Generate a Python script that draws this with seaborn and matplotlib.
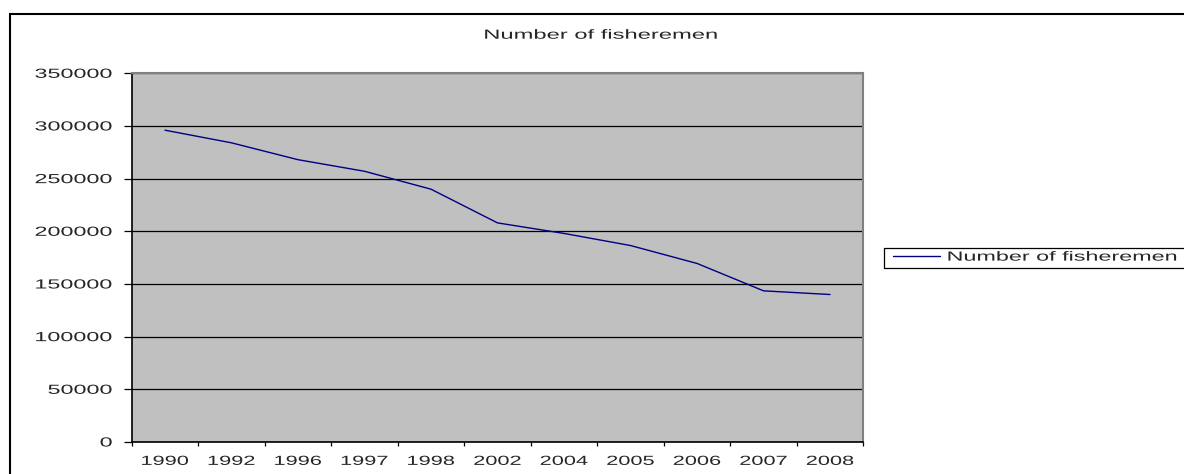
import matplotlib
matplotlib.use("Agg")
import matplotlib.pyplot as plt
import seaborn as sns
from matplotlib.patches import Rectangle
from matplotlib.patheffects import AbstractPathEffect
from matplotlib.transforms import Affine2D

# --- data ---
years = ["1990", "1992", "1996", "1997", "1998", "2002", "2004", "2005", "2006", "2007", "2008"]
fishermen = [296000, 284000, 268000, 257000, 240000, 208000, 198000, 186500, 169500, 143500, 140000]
series_name = "Number of fisheremen"
y_ticks = [0, 50000, 100000, 150000, 200000, 250000, 300000, 350000]


# the source image is a horizontally stretched screenshot, so widen the glyphs too
class HStretch(AbstractPathEffect):
    def __init__(self, sx, anchor="center"):
        super().__init__()
        self.sx = sx
        self.anchor = anchor

    def draw_path(self, renderer, gc, tpath, affine, rgbFace=None):
        ext = tpath.get_extents()
        x0 = {"left": 0.0, "center": (ext.x0 + ext.x1) / 2, "right": ext.x1}[self.anchor]
        st = Affine2D().translate(-x0, 0).scale(self.sx, 1).translate(x0, 0)
        renderer.draw_path(gc, tpath, st + affine, rgbFace)


sns.set_style("white")
plt.rcParams["font.family"] = ["Liberation Sans", "DejaVu Sans"]
plt.rcParams["font.size"] = 9.5

W, H = 1184, 474
fig = plt.figure(figsize=(W / 100, H / 100), dpi=100)
ax = fig.add_axes([131.7 / W, 1 - 442 / H, (863.3 - 131.7) / W, (442 - 73.3) / H])
ax.set_facecolor("#C0C0C0")

sns.lineplot(x=years, y=fishermen, ax=ax, color="#000080", lw=1.0, label=series_name)

# y axis
ax.set_ylim(0, 350000)
ax.set_yticks(y_ticks, labels=[str(v) for v in y_ticks])
ax.yaxis.grid(True, color="black", lw=0.9)
ax.xaxis.grid(False)
ax.set_axisbelow(True)
ax.tick_params(axis="y", direction="out", length=5.5, width=0.9, color="black", pad=8.5, left=True)

# x axis: ticks between categories, labels at category centres
n = len(years)
ax.set_xlim(-0.5, n - 0.5)
ax.set_xticks([i - 0.5 for i in range(n + 1)], labels=[""] * (n + 1))
ax.set_xticks(list(range(n)), labels=years, minor=True)
ax.tick_params(axis="x", which="major", direction="out", length=3, width=0.9, color="black", bottom=True)
ax.tick_params(axis="x", which="minor", length=0, pad=10)
ax.set_xlabel("")
ax.set_ylabel("")

for s in ["left", "bottom"]:
    ax.spines[s].set_color("black")
    ax.spines[s].set_linewidth(1.2)
for s in ["top", "right"]:
    ax.spines[s].set_color("#808080")
    ax.spines[s].set_linewidth(1.5)

# title
fig.text(601 / W, 1 - 38.7 / H, series_name, ha="center", va="baseline",
         path_effects=[HStretch(1.8, "center")])

# legend
ax.get_legend().remove()
leg = fig.legend(loc="center left", bbox_to_anchor=(893 / W, 1 - 257.5 / H),
                 frameon=False, borderpad=0, borderaxespad=0,
                 handlelength=3.56, handletextpad=0.5)
for t in leg.get_texts():
    t.set_path_effects([HStretch(1.77, "left")])
fig.patches.append(Rectangle((884 / W, 1 - 268 / H), 0.5, 20 / H, transform=fig.transFigure,
                             fill=False, edgecolor="black", lw=0.9))

# outer chart frame
fig.patches.append(Rectangle((10 / W, -0.2), 1.5, 1.2 - 14 / H, transform=fig.transFigure,
                             fill=False, edgecolor="black", lw=1.5))

for lbl in ax.get_yticklabels():
    lbl.set_path_effects([HStretch(1.77, "right")])
for lbl in ax.get_xticklabels(minor=True):
    lbl.set_path_effects([HStretch(1.65, "center")])

fig.savefig("out.png", dpi=100)
